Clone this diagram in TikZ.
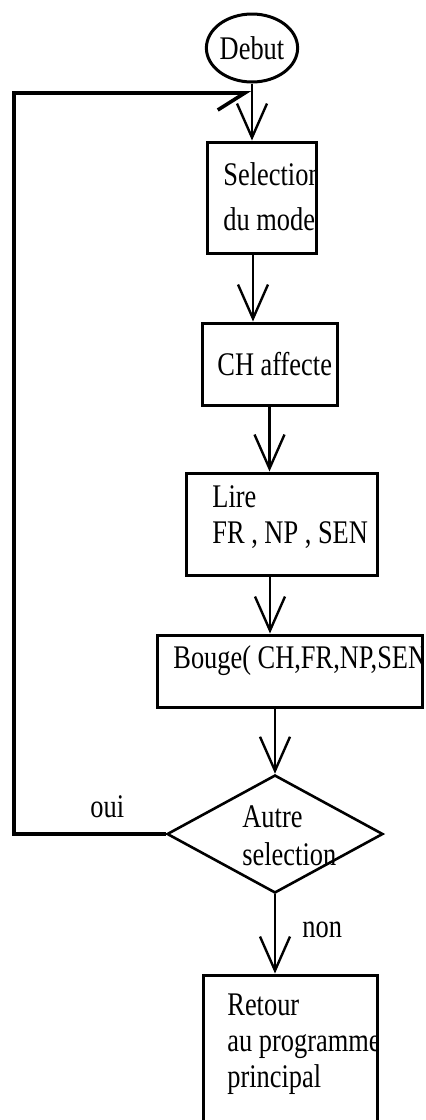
\documentclass[tikz,border=0pt]{standalone}
\usepackage{fontspec}
\setmainfont[FakeStretch=0.8]{Liberation Serif}
\usetikzlibrary{arrows.meta,shapes.geometric}

\begin{document}
\begin{tikzpicture}[x=0.5pt, y=-0.5pt,
    font=\fontsize{16.5}{18}\selectfont,
    blk/.style={draw, line width=1.5pt, inner sep=0pt},
    arr/.style={line width=1.2pt, -{Straight Barb[length=17pt, width=15pt]}},
    txt/.style={inner sep=0pt, anchor=base west, align=left}]
  \clip (0,0) rectangle (425,1120);
  % blocks
  \node[blk, ellipse, minimum width=45pt, minimum height=34pt] (debut) at (252,48) {Debut};
  \node[blk, minimum width=54.5pt, minimum height=55.5pt] (sel) at (261.5,197.5) {};
  \node[blk, minimum width=67.5pt, minimum height=41pt] (ch) at (269.5,364) {};
  \node[blk, minimum width=95.5pt, minimum height=51pt] (lire) at (281.5,524) {};
  \node[blk, minimum width=132.5pt, minimum height=36pt] (bouge) at (289.5,671) {};
  \node[blk, diamond, line width=1.3pt, minimum width=108pt, minimum height=59pt] (autre) at (275,834) {};
  \node[blk, minimum width=87pt, minimum height=80pt] (ret) at (290,1055) {};
  % texts, cut at the box edges (placed by their last baseline)
  \begin{scope}
    \clip (sel.south west) rectangle (sel.north east);
    \node[txt] (seltxt) at (223,230) {Selection\\[4.5pt]du mode};
  \end{scope}
  \begin{scope}
    \clip (ch.south west) rectangle (ch.north east);
    \node[txt] (chtxt) at (217,375) {CH affecte};
  \end{scope}
  \begin{scope}
    \clip (lire.south west) rectangle (lire.north east);
    \node[txt] (liretxt) at (212,543) {Lire\\FR , NP , SEN};
  \end{scope}
  \begin{scope}
    \clip (bouge.south west) rectangle (bouge.north east);
    \node[txt] (bougetxt) at (173,668) {Bouge( CH,FR,NP,SEN};
  \end{scope}
  \node[txt] (autretxt) at (242,865) {Autre\\[1pt]selection};
  \begin{scope}
    \clip (ret.south west) rectangle (ret.north east);
    \node[txt] (rettxt) at (227,1087) {Retour\\au programme\\principal};
  \end{scope}
  % arrows
  \draw[arr] (debut.south) -- (debut.south |- sel.north);
  \draw[arr] ([xshift=-4.25pt]sel.south) -- ([xshift=-4.25pt]sel.south |- ch.north);
  \draw[arr] (ch.south) -- (ch.south |- lire.north);
  \draw[arr] ([xshift=-5.75pt]lire.south) -- ([xshift=-5.75pt]lire.south |- bouge.north);
  \draw[arr] (bouge.south -| autre.north) -- (autre.north);
  \draw[arr] (autre.south) -- (autre.south |- ret.north);
  % loop back to the mode selection
  \coordinate (corner) at (14,93);
  \coordinate (join) at (251,93);
  \draw[line width=1.8pt, -{Straight Barb[right, length=13.5pt, width=17pt]}]
    (autre.west) -| (corner) -- (join);
  \node[txt] (oui) at (90,817) {oui};
  \node[txt] (non) at (302,937) {non};
\end{tikzpicture}
\end{document}
